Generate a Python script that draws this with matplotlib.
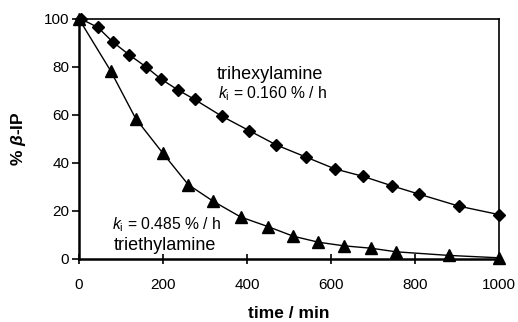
import matplotlib
matplotlib.use("Agg")
import matplotlib.pyplot as plt

plt.rcParams['font.family'] = ['Liberation Sans', 'DejaVu Sans']
plt.rcParams['mathtext.fontset'] = 'custom'
plt.rcParams['mathtext.rm'] = 'Liberation Sans'
plt.rcParams['mathtext.it'] = 'Liberation Sans:italic'
plt.rcParams['mathtext.bf'] = 'Liberation Sans:bold'
plt.rcParams['mathtext.bfit'] = 'Liberation Sans:italic:bold'

# Data
t_hexyl = [5, 45, 80, 120, 160, 195, 235, 275, 340, 405, 470, 540, 610, 675, 745, 810, 905, 1000]
v_hexyl = [100, 96.5, 90.5, 85, 80, 75, 70.5, 66.5, 59.5, 53.5, 47.5, 42.5, 37.5, 34.5, 30.5, 27, 22, 18.5]

t_ethyl = [0, 75, 135, 200, 260, 320, 385, 450, 510, 570, 630, 695, 755, 880, 1000]
v_ethyl = [100, 78.5, 58.5, 44, 31, 24, 17.5, 13.5, 9.5, 7, 5.5, 4.5, 3, 1.5, 0.5]

x_ticks = [0, 200, 400, 600, 800, 1000]
y_ticks = [0, 20, 40, 60, 80, 100]

fig = plt.figure(figsize=(5.18, 3.22), dpi=100)
ax = fig.add_axes([79/518, 1 - 259/322, 420/518, 240/322])

ax.plot(t_ethyl, v_ethyl, color='black', lw=1.0, marker='^', ms=8,
        mfc='black', mec='black', clip_on=False, zorder=3)
ax.plot(t_hexyl, v_hexyl, color='black', lw=1.0, marker='D', ms=6,
        mfc='black', mec='black', clip_on=False, zorder=4)

ax.set_xlim(0, 1000)
ax.set_ylim(0, 100)
ax.set_xticks(x_ticks)
ax.set_yticks(y_ticks)
ax.tick_params(axis='x', direction='inout', length=7, width=1.2, labelsize=11, pad=10)
ax.tick_params(axis='y', direction='out', length=5, width=1.2, labelsize=11, pad=2)
for s in ax.spines.values():
    s.set_linewidth(1.2)
ax.spines['left'].set_linewidth(1.8)
ax.spines['bottom'].set_linewidth(1.8)

ax.set_xlabel('time / min', fontsize=12.5, fontweight='bold', labelpad=10)
ax.set_ylabel(r'% $\mathbfit{\beta}$-IP', fontsize=12.5, fontweight='bold', labelpad=11)

ax.text(329, 76.7, 'trihexylamine', fontsize=13, ha='left', va='center')
ax.text(330, 69.0, r'$k_{\mathrm{i}}$ = 0.160 % / h', fontsize=11.3, ha='left', va='center')
ax.text(78, 14.2, r'$k_{\mathrm{i}}$ = 0.485 % / h', fontsize=11.3, ha='left', va='center')
ax.text(82, 5.8, 'triethylamine', fontsize=13, ha='left', va='center')

fig.savefig('out.png', dpi=100)
